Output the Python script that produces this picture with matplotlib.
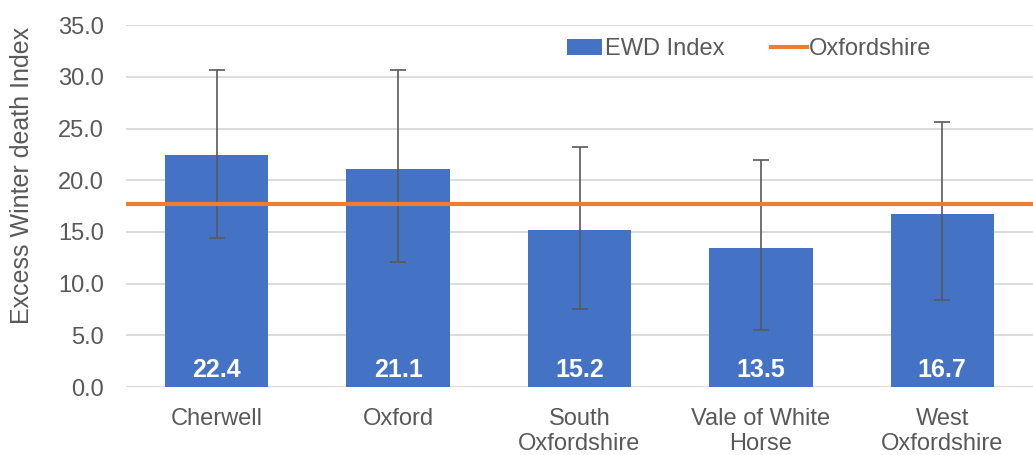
import matplotlib.pyplot as plt
import numpy as np

districts = ["Cherwell", "Oxford", "South\nOxfordshire", "Vale of White\nHorse", "West\nOxfordshire"]
ewd_index = [22.4, 21.1, 15.2, 13.5, 16.7]
ci_lower = [14.4, 12.1, 7.6, 5.5, 8.4]
ci_upper = [30.7, 30.7, 23.2, 22.0, 25.6]
oxfordshire = 17.7

plt.rcParams['font.family'] = ['Liberation Sans', 'DejaVu Sans']
text_col = "#595959"

fig = plt.figure(figsize=(10.33, 4.55), dpi=100)
ax = fig.add_axes([0.122, 0.149, 0.878, 0.796])

x = np.arange(len(districts))
vals = np.array(ewd_index)
yerr = [vals - np.array(ci_lower), np.array(ci_upper) - vals]

bars = ax.bar(x, vals, width=0.57, color="#4472C4", label="EWD Index", zorder=2)
ax.errorbar(x, vals, yerr=yerr, fmt="none", ecolor="#595959", elinewidth=1.2,
            capsize=6, capthick=1.2, zorder=3)
line = ax.axhline(oxfordshire, color="#ED7D31", lw=3, label="Oxfordshire", zorder=4)

for xi, v in zip(x, vals):
    ax.annotate(f"{v:.1f}", (xi, 0), xytext=(0, 4), textcoords="offset points",
                ha="center", va="bottom", color="white", fontsize=18, fontweight="bold", zorder=5)

ax.set_xlim(-0.5, len(districts) - 0.5)
ax.set_ylim(0, 35)
ticks = np.arange(0, 35.1, 5)
ax.set_yticks(ticks)
ax.set_yticklabels([f"{t:.1f}" for t in ticks])
ax.set_xticks(x)
ax.set_xticklabels(districts)
ax.tick_params(axis="both", length=0, labelsize=17, labelcolor=text_col)
ax.tick_params(axis="x", pad=15)
ax.tick_params(axis="y", pad=16)
ax.yaxis.grid(True, color="#D9D9D9", lw=1.3, zorder=0)
ax.set_axisbelow(True)
for s in ax.spines.values():
    s.set_visible(False)

ax.set_ylabel("Excess Winter death Index", fontsize=18, color=text_col)
ax.yaxis.set_label_coords(-0.101, 0.585)

ax.legend([bars, line], ["EWD Index", "Oxfordshire"], loc="center",
          bbox_to_anchor=(0.687, 0.933), ncol=2, frameon=False,
          fontsize=17, labelcolor=text_col, handlelength=1.5, handletextpad=0.1,
          columnspacing=2.0)

fig.savefig("out.png", dpi=100)
